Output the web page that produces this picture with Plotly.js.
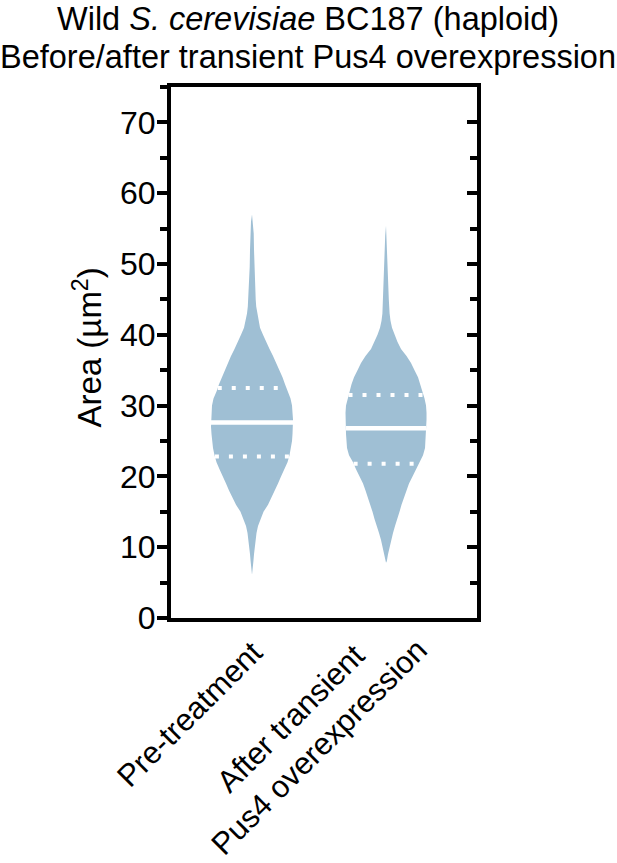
<!DOCTYPE html>
<html>
<head>
<meta charset="utf-8">
<script src="https://cdn.plot.ly/plotly-3.0.1.min.js"></script>
<style>
  html, body { margin: 0; padding: 0; background: #ffffff; }
  #chart { width: 617px; height: 863px; }
</style>
</head>
<body>
<div id="chart"></div>
<script>
// ---- Data ----
const titleLines = ['Wild <i>S. cerevisiae</i> BC187 (haploid)', 'Before/after transient Pus4 overexpression'];
const categories = ['Pre-treatment', 'After transient<br>Pus4 overexpression'];

// Violin outline: area values (µm²) and relative density (half-width) at each value
const preArea = [6.1, 7, 8, 9, 10, 11, 12, 13, 14, 15, 16, 17, 18, 19, 20, 21, 22, 23, 24, 25, 26, 27, 28, 29, 30, 31, 32, 33, 34, 35, 36, 37, 38, 39, 40, 41, 42, 43, 44, 45, 47, 49.6, 52, 54.3, 56, 57];
const preDensity = [0, 1, 1.4, 2, 2.6, 3.5, 4.5, 6, 8.5, 11.5, 16, 19.5, 23, 26, 29, 32.5, 35.5, 37.5, 39, 40, 40.5, 41, 41, 40.5, 40, 38.5, 35.5, 33, 30.5, 27.5, 24, 21, 17.5, 14, 11, 8, 6.5, 5, 4.2, 3.7, 3, 2.3, 2, 1.7, 1, 0];

const postArea = [7.8, 8, 9, 10, 11, 12, 13, 14, 15, 16, 17, 18, 19, 20, 21, 22, 23, 24, 25, 26, 27, 28, 29, 30, 31, 32, 33, 34, 35, 36, 37, 38, 39, 40, 41, 42, 43, 45, 47, 50, 52, 54, 55.4];
const postDensity = [0, 0.8, 2, 3.5, 5, 7, 9, 11.5, 13.5, 15.5, 18, 20.5, 23, 26.5, 30, 33, 37, 39, 39.5, 40, 40, 40.5, 40.5, 40, 38.5, 36.5, 34.5, 32, 28.5, 25, 20.5, 15, 11.5, 8.5, 6, 4.5, 3.6, 2.8, 2.2, 1.6, 1.3, 0.8, 0];

const medians = [27.6, 26.8];
const lowerQuartiles = [22.8, 21.8];
const upperQuartiles = [32.5, 31.5];

const yTickValues = [0, 10, 20, 30, 40, 50, 60, 70];

// ---- Styling ----
const FILL = '#9fbfd4';
const FONT = 'Liberation Sans, Arial, Helvetica, sans-serif';
const widthScale = 0.306 / 41;   // density unit -> category units

function interp(ys, ds, v) {
  for (let i = 0; i < ys.length - 1; i++) {
    if (v >= ys[i] && v <= ys[i + 1]) {
      const t = (v - ys[i]) / (ys[i + 1] - ys[i]);
      return ds[i] + t * (ds[i + 1] - ds[i]);
    }
  }
  return 0;
}

const profiles = [
  { area: preArea, dens: preDensity },
  { area: postArea, dens: postDensity }
];

const traces = [];
profiles.forEach((p, i) => {
  const c = i;
  const xs = [], ys = [];
  for (let k = 0; k < p.area.length; k++) { xs.push(c + p.dens[k] * widthScale); ys.push(p.area[k]); }
  for (let k = p.area.length - 1; k >= 0; k--) { xs.push(c - p.dens[k] * widthScale); ys.push(p.area[k]); }
  traces.push({
    type: 'scatter', mode: 'lines', x: xs, y: ys, fill: 'toself',
    fillcolor: FILL, line: { width: 0, color: FILL },
    hoverinfo: 'skip', showlegend: false
  });
  const stats = [
    { v: medians[i], dash: 'solid', w: 4.5 },
    { v: lowerQuartiles[i], dash: '4px,10px', w: 4 },
    { v: upperQuartiles[i], dash: '4px,10px', w: 4 }
  ];
  stats.forEach(s => {
    const hw = interp(p.area, p.dens, s.v) * widthScale;
    traces.push({
      type: 'scatter', mode: 'lines', x: [c - hw, c + hw], y: [s.v, s.v],
      line: { color: '#ffffff', width: s.w, dash: s.dash },
      hoverinfo: 'skip', showlegend: false
    });
  });
});

// helper trace so the right-hand (inside) tick axis is drawn
traces.push({ type: 'scatter', mode: 'markers', x: [], y: [], yaxis: 'y2', showlegend: false, hoverinfo: 'skip' });

const layout = {
  width: 617, height: 863,
  margin: { l: 171, r: 140, t: 87, b: 245, pad: 0 },
  paper_bgcolor: '#ffffff', plot_bgcolor: '#ffffff',
  font: { family: FONT, color: '#000000', size: 30 },
  showlegend: false,
  xaxis: {
    range: [-0.6045, 1.679], showgrid: false, zeroline: false,
    showline: true, linewidth: 4, linecolor: '#000000', mirror: true,
    ticks: '', showticklabels: false, fixedrange: true
  },
  yaxis: {
    range: [0, 75], showgrid: false, zeroline: false,
    showline: true, linewidth: 4, linecolor: '#000000', mirror: true,
    ticks: 'outside', ticklen: 10, tickwidth: 4, tickcolor: '#000000',
    tickvals: yTickValues, ticktext: yTickValues.map(String),
    tickfont: { family: FONT, size: 32, color: '#000000' },
    ticklabelstandoff: -5,
    minor: { dtick: 5, tick0: 0, ticks: 'outside', ticklen: 7, tickwidth: 4, tickcolor: '#000000', showgrid: false },
    fixedrange: true
  },
  yaxis2: {
    overlaying: 'y', side: 'right', range: [0, 75],
    showgrid: false, zeroline: false, showline: false,
    ticks: 'inside', ticklen: 10, tickwidth: 4, tickcolor: '#000000',
    tickvals: yTickValues, showticklabels: false,
    minor: { dtick: 5, tick0: 0, ticks: 'inside', ticklen: 7, tickwidth: 4, tickcolor: '#000000', showgrid: false },
    fixedrange: true
  },
  annotations: [
    {
      text: titleLines[0], xref: 'paper', yref: 'paper', x: 0.4493, y: 1,
      xanchor: 'center', yanchor: 'middle', yshift: 68,
      showarrow: false, font: { family: FONT, size: 32.5, color: '#000000' }
    },
    {
      text: titleLines[1], xref: 'paper', yref: 'paper', x: 0.4493, y: 1,
      xanchor: 'center', yanchor: 'middle', yshift: 30,
      showarrow: false, font: { family: FONT, size: 32.5, color: '#000000' }
    },
    {
      text: 'Area (µm<sup>2</sup>)', xref: 'paper', yref: 'paper', x: 0, y: 0.5,
      xanchor: 'center', yanchor: 'middle', xshift: -84, yshift: 5, textangle: -90,
      showarrow: false, font: { family: FONT, size: 33, color: '#000000' }
    },
    {
      text: categories[0], xref: 'x', yref: 'paper', x: 0, y: 0,
      xanchor: 'center', yanchor: 'middle', xshift: -62.5, yshift: -96.5, textangle: -45,
      align: 'center', showarrow: false, font: { family: FONT, size: 31, color: '#000000' }
    },
    {
      text: categories[1], xref: 'x', yref: 'paper', x: 1, y: 0,
      xanchor: 'center', yanchor: 'middle', xshift: -81, yshift: -114.5, textangle: -45,
      align: 'center', showarrow: false, font: { family: FONT, size: 31, color: '#000000' }
    }
  ]
};

Plotly.newPlot('chart', traces, layout, { staticPlot: true, displayModeBar: false });
</script>
</body>
</html>
